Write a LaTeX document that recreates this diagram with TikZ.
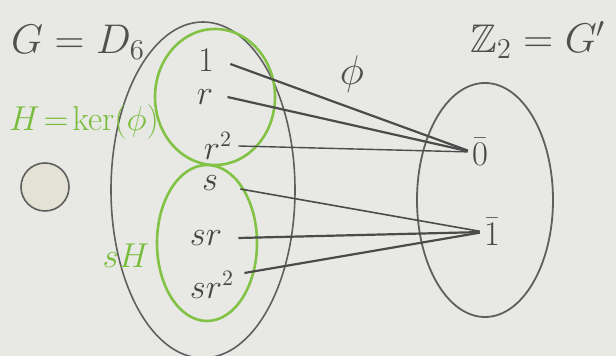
\documentclass[tikz,border=0pt]{standalone}
\usepackage{amssymb}
\definecolor{paper}{RGB}{232,232,229}
\definecolor{pencilc}{RGB}{95,95,95}
\definecolor{greenc}{RGB}{130,195,70}
\definecolor{greent}{RGB}{120,190,60}
\definecolor{eltc}{RGB}{70,70,70}
\definecolor{lblc}{RGB}{80,80,80}
\definecolor{mapc}{RGB}{75,75,75}
\definecolor{pinc}{RGB}{228,226,212}
\begin{document}
\begin{tikzpicture}[x=0.5pt,y=-0.5pt,
  pencil/.style={draw=pencilc},
  greenline/.style={draw=greenc, line width=1.3pt},
  elt/.style={text=eltc, font=\fontsize{16}{19}\selectfont, inner sep=0pt},
  lbl/.style={text=lblc, font=\fontsize{20}{24}\selectfont},
  glbl/.style={text=greent, font=\fontsize{17}{20}\selectfont},
  mapline/.style={draw=mapc, line width=1.1pt, shorten >=2pt}
]
\fill[paper] (0,0) rectangle (616,356);
\useasboundingbox (0,0) rectangle (616,356);

% big set G
\draw[pencil, line width=0.8pt] (203,190) ellipse [x radius=92, y radius=168];
% cosets
\draw[greenline] (215,97) ellipse [x radius=60, y radius=68];
\draw[greenline] (207,243) ellipse [x radius=50, y radius=78];
% target set
\draw[pencil, line width=0.9pt] (485,200) ellipse [x radius=68, y radius=117];

% pin
\draw[pencil, line width=0.8pt, fill=pinc] (45,187) circle [radius=24];

% labels
\node[lbl] (G) at (78,42) {$G = D_6$};
\node[glbl] (H) at (84,122) {$H\!=\!\mathrm{ker}(\phi)$};
\node[glbl] (sH) at (126,256) {$sH$};
\node[lbl] (phi) at (352,74) {$\phi$};
\node[lbl] (Z) at (538,40) {$\mathbb{Z}_2 = G'$};

% elements
\node[elt] (e1) at (206,60) {$1$};
\node[elt] (er) at (205,97) {$r$};
\node[elt] (er2) at (218,146) {$r^2$};
\node[elt] (es) at (210,183) {$s$};
\node[elt] (esr) at (206,238) {$sr$};
\node[elt] (esr2) at (212,285) {$sr^2$};
\node[elt] (z0) at (480,152) {$\bar{0}$};
\node[elt] (z1) at (492,232) {$\bar{1}$};

\draw[mapline] (e1.east) ++(16,4) -- (z0.west);
\draw[mapline] (er.east) ++(14,0) -- (z0.west);
\draw[mapline, line width=0.7pt] (er2.east) ++(6,0) -- (z0.west);
\draw[mapline, line width=0.8pt] (es.east) ++(22,6) -- (z1.west);
\draw[mapline] (esr.east) ++(16,0) -- (z1.west);
\draw[mapline] (esr2.east) ++(10,-12) -- (z1.west);
\end{tikzpicture}
\end{document}
